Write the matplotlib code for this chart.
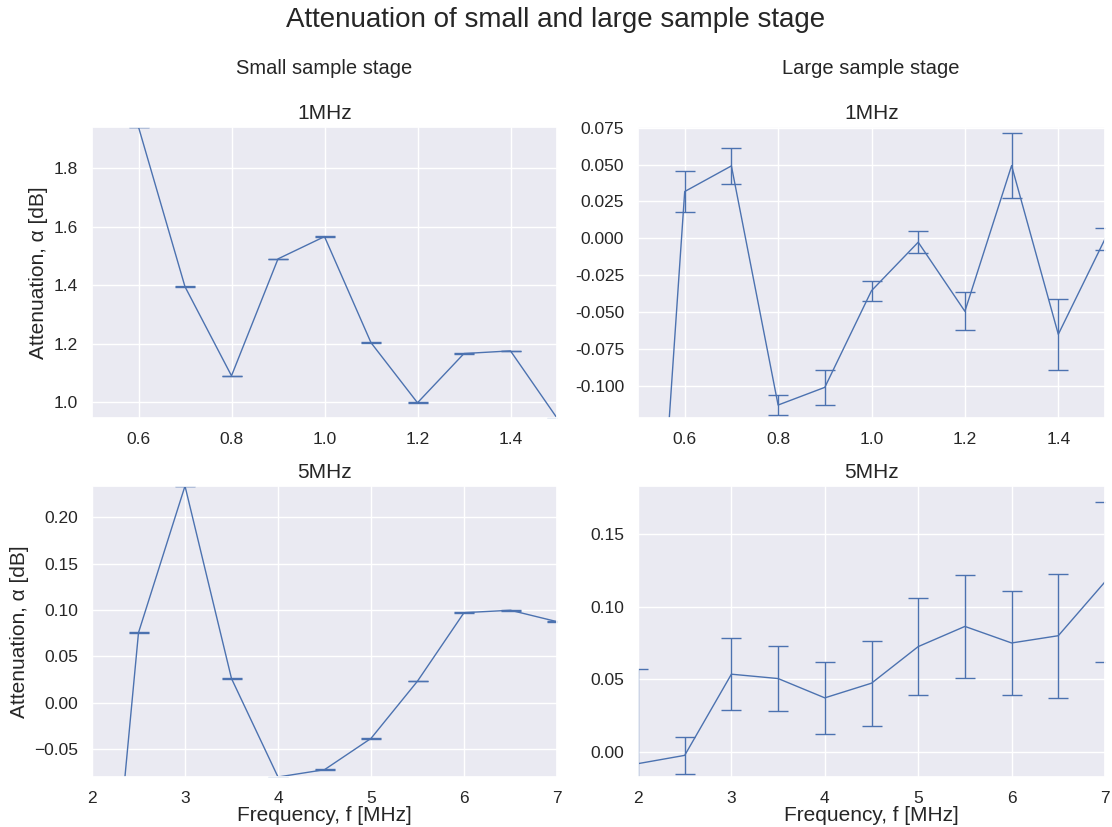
import matplotlib
matplotlib.use("Agg")
import matplotlib.pyplot as plt
import seaborn as sns

# frequency steps used in the sweeps [MHz]
freq_1mhz = [0.5, 0.6, 0.7, 0.8, 0.9, 1.0, 1.1, 1.2, 1.3, 1.4, 1.5]
freq_5mhz = [2.0, 2.5, 3.0, 3.5, 4.0, 4.5, 5.0, 5.5, 6.0, 6.5, 7.0]

# small sample stage
small_1mhz = [2.30, 1.94, 1.395, 1.091, 1.490, 1.566, 1.204, 0.999, 1.167, 1.176, 0.947]
small_1mhz_err = [0.001, 0.001, 0.001, 0.001, 0.001, 0.001, 0.001, 0.001, 0.001, 0.001, 0.001]
small_5mhz = [-0.459, 0.0755, 0.234, 0.0259, -0.0805, -0.0726, -0.0388, 0.0231, 0.0971, 0.0997, 0.0874]
small_5mhz_err = [0.0003, 0.0003, 0.0003, 0.0003, 0.0003, 0.0003, 0.0003, 0.0003, 0.0003, 0.0003, 0.0003]

# large sample stage
large_1mhz = [-0.434, 0.0317, 0.0491, -0.1132, -0.1012, -0.0356, -0.0027, -0.0496, 0.0493, -0.0652, -0.0005]
large_1mhz_err = [0.020, 0.014, 0.012, 0.007, 0.0118, 0.0068, 0.0074, 0.0128, 0.0218, 0.0242, 0.0075]
large_5mhz = [-0.0080, -0.0023, 0.0536, 0.0506, 0.0373, 0.0474, 0.0726, 0.0865, 0.0751, 0.0801, 0.1172]
large_5mhz_err = [0.065, 0.0125, 0.0248, 0.0222, 0.025, 0.0293, 0.0332, 0.0356, 0.0356, 0.0428, 0.0553]

sns.set_theme(style="darkgrid")
plt.rcParams['font.family'] = ['Liberation Sans', 'DejaVu Sans']

color = sns.color_palette()[0]

fig = plt.figure(figsize=(11.12, 8.27), dpi=100)
W, H = 1112, 827


def add_ax(x0, x1, y0, y1):
    return fig.add_axes([x0 / W, 1 - y1 / H, (x1 - x0) / W, (y1 - y0) / H])


ax_tl = add_ax(92, 557, 127, 418)
ax_tr = add_ax(638, 1105, 127, 418)
ax_bl = add_ax(92, 557, 486, 777)
ax_br = add_ax(638, 1105, 486, 777)

panels = [
    (ax_tl, freq_1mhz, small_1mhz, small_1mhz_err, (0.5, 1.5), (0.947, 1.94), "1MHz"),
    (ax_tr, freq_1mhz, large_1mhz, large_1mhz_err, (0.5, 1.5), (-0.122, 0.0755), "1MHz"),
    (ax_bl, freq_5mhz, small_5mhz, small_5mhz_err, (2, 7), (-0.0805, 0.234), "5MHz"),
    (ax_br, freq_5mhz, large_5mhz, large_5mhz_err, (2, 7), (-0.0172, 0.1832), "5MHz"),
]

for ax, f, a, err, xl, yl, title in panels:
    ax.errorbar(f, a, yerr=err, color=color, linewidth=1, elinewidth=1,
                capsize=7, capthick=1)
    ax.set_xlim(*xl)
    ax.set_ylim(*yl)
    ax.set_title(title, fontsize=15)
    ax.tick_params(labelsize=12.5, pad=4)

ax_tr.set_yticks([-0.1, -0.075, -0.05, -0.025, 0.0, 0.025, 0.05, 0.075])
ax_tr.yaxis.set_major_formatter(matplotlib.ticker.FormatStrFormatter('%.3f'))
ax_tr.set_ylim(-0.122, 0.0755)

for ax in (ax_tl, ax_bl):
    ax.set_ylabel("Attenuation, α [dB]", fontsize=15)
for ax in (ax_bl, ax_br):
    ax.set_xlabel("Frequency, f [MHz]", fontsize=15, labelpad=0)

fig.text(556 / W, 1 - 20 / H, "Attenuation of small and large sample stage",
         ha='center', va='center', fontsize=20)
fig.text(324 / W, 1 - 68 / H, "Small sample stage", ha='center', va='center', fontsize=14.5)
fig.text(871 / W, 1 - 68 / H, "Large sample stage", ha='center', va='center', fontsize=14.5)

fig.savefig("out.png", dpi=100)
